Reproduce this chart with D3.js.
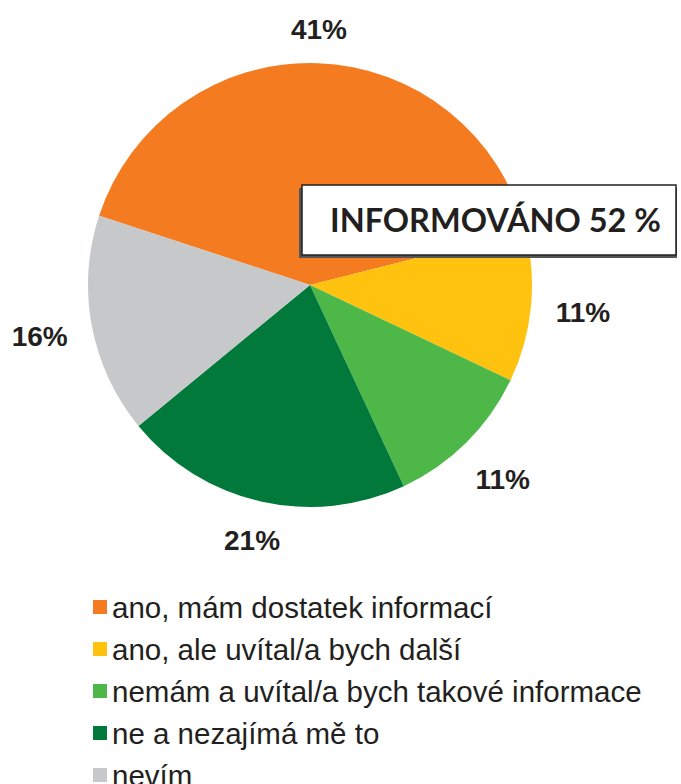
<!DOCTYPE html>
<html>
<head>
<meta charset="utf-8">
<script src="https://cdn.jsdelivr.net/npm/d3@7"></script>
<style>
  body { margin: 0; background: #fff; }
  svg { display: block; }
</style>
</head>
<body>
<div id="chart"></div>
<script>
// data
var categories = ["ano, mám dostatek informací", "ano, ale uvítal/a bych další",
  "nemám a uvítal/a bych takové informace", "ne a nezajímá mě to", "nevím"];
var values = [41, 11, 11, 21, 16];
var colors = ["#f47b20", "#ffc20e", "#4db848", "#00793a", "#c7c8ca"];
var calloutText = "INFORMOVÁNO 52 %";

var width = 681, height = 784;
var cx = 310, cy = 285, radius = 222;
var startDeg = -71.8;

var svg = d3.select("#chart").append("svg")
  .attr("width", width)
  .attr("height", height);

var pie = d3.pie()
  .sort(null)
  .value(function (d) { return d; })
  .startAngle(startDeg * Math.PI / 180)
  .endAngle(startDeg * Math.PI / 180 + 2 * Math.PI);

var arc = d3.arc().innerRadius(0).outerRadius(radius);
var arcs = pie(values);

var g = svg.append("g").attr("transform", "translate(" + cx + "," + cy + ")");

g.selectAll("path.slice")
  .data(arcs)
  .enter().append("path")
  .attr("class", "slice")
  .attr("d", arc)
  .attr("fill", function (d, i) { return colors[i]; });

// labels outside the pie, pushed out by half the label box
var gap = 19, hw = 32, hh = 14;
g.selectAll("text.lbl")
  .data(arcs)
  .enter().append("text")
  .attr("class", "lbl")
  .attr("transform", function (d) {
    var a = (d.startAngle + d.endAngle) / 2;
    var s = Math.sin(a), c = -Math.cos(a);
    var r = radius + gap + Math.abs(s) * hw + Math.abs(c) * hh;
    return "translate(" + (s * r) + "," + (c * r) + ")";
  })
  .attr("text-anchor", "middle")
  .attr("dy", "0.36em")
  .style("font-family", "'Liberation Sans', Arial, sans-serif")
  .style("font-weight", "bold")
  .style("font-size", "28px")
  .style("fill", "#231f20")
  .text(function (d) { return d.data + "%"; });

// callout box
var box = svg.append("g").attr("transform", "translate(302,185)");
box.append("rect")
  .attr("x", -3).attr("y", 3)
  .attr("width", 378).attr("height", 70)
  .attr("fill", "#555");
box.append("rect")
  .attr("x", 0).attr("y", 0)
  .attr("width", 374).attr("height", 70)
  .attr("fill", "#fff")
  .attr("stroke", "#231f20")
  .attr("stroke-width", 1.5);
box.append("text")
  .attr("x", 28).attr("y", 36)
  .attr("dy", "0.35em")
  .style("font-family", "Lato, 'Open Sans', sans-serif")
  .style("font-weight", "bold")
  .style("font-size", "32.5px")
  .style("fill", "#231f20")
  .text(calloutText);

// legend
var legend = svg.append("g").attr("transform", "translate(93,607)");
var item = legend.selectAll("g.item")
  .data(categories)
  .enter().append("g")
  .attr("class", "item")
  .attr("transform", function (d, i) { return "translate(0," + (i * 42) + ")"; });

item.append("rect")
  .attr("x", 0).attr("y", -7)
  .attr("width", 14).attr("height", 14)
  .attr("fill", function (d, i) { return colors[i]; });

item.append("text")
  .attr("x", 19).attr("dy", "0.36em")
  .style("font-family", "'Liberation Sans', Arial, sans-serif")
  .style("font-size", "29.5px")
  .style("fill", "#231f20")
  .text(function (d) { return d; });
</script>
</body>
</html>
